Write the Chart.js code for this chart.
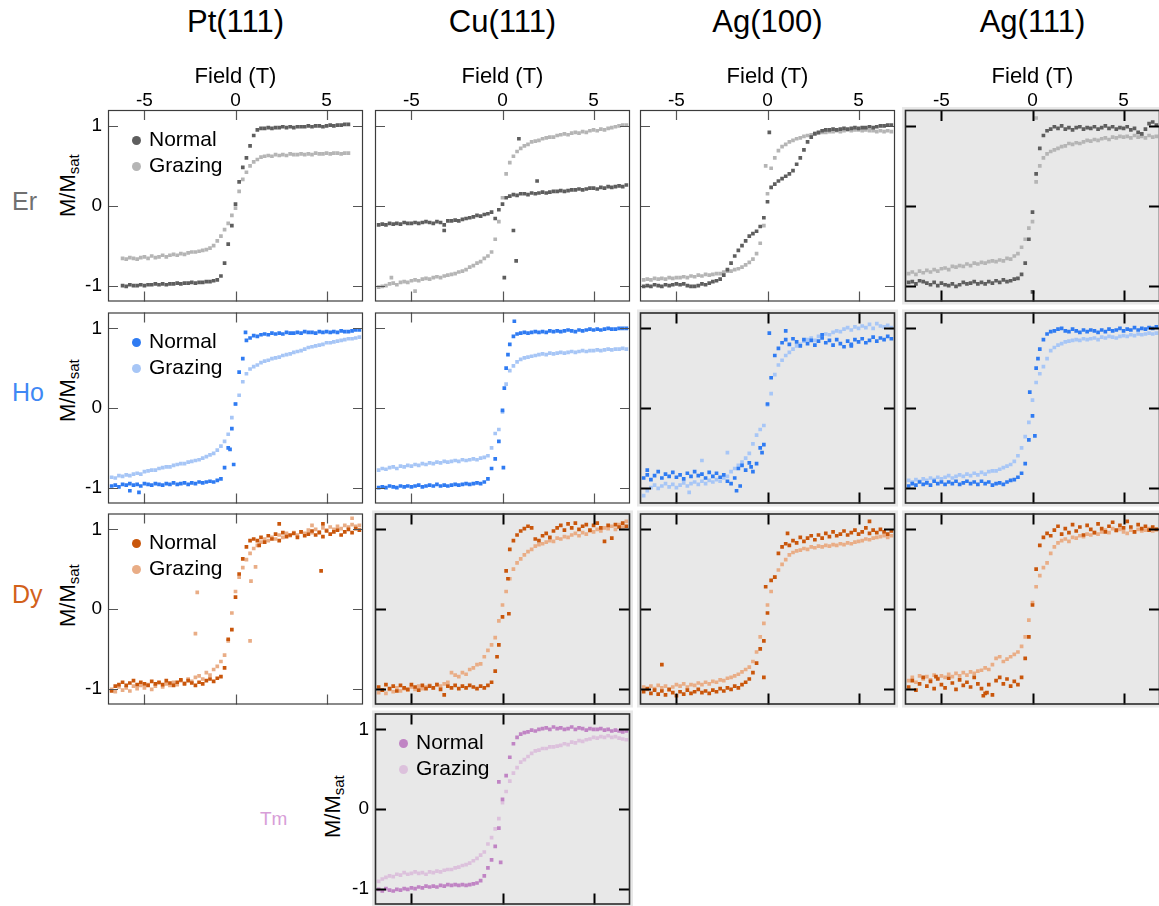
<!DOCTYPE html>
<html>
<head>
<meta charset="utf-8">
<script src="https://cdn.jsdelivr.net/npm/chart.js@4.4.1/dist/chart.umd.min.js"></script>
<style>
  body { margin: 0; width: 1159px; height: 906px; overflow: hidden; position: relative; background: #fff;
         font-family: "Liberation Sans", Arial, Helvetica, sans-serif; color: #000; }
  .txt { position: absolute; white-space: nowrap; line-height: 1; }
  .colTitle { font-size: 31px; width: 255px; text-align: center; top: 6px; }
  .rowLabel { font-size: 25px; left: 12px; }
  .ylab { font-size: 22px; transform-origin: 0 0; transform: rotate(-90deg); }
  .ylab sub { font-size: 15px; vertical-align: -4px; }
  .legText { font-size: 21px; }
  .legDot { position: absolute; width: 9px; height: 9px; border-radius: 50%; }
  canvas { position: absolute; }
</style>
</head>
<body>
<script>
// field sweeps (T)
const fieldLong = [
  -6.8,-6.6,-6.4,-6.2,-6.0,-5.8,-5.6,-5.4,-5.2,-5.0,
  -4.8,-4.6,-4.4,-4.2,-4.0,-3.8,-3.6,-3.4,-3.2,-3.0,
  -2.8,-2.6,-2.4,-2.2,-2.0,-1.8,-1.6,-1.4,-1.2,-1.0,
  -0.8,-0.6,-0.4,-0.2,0,0.2,0.4,0.6,0.8,1.0,
  1.2,1.4,1.6,1.8,2.0,2.2,2.4,2.6,2.8,3.0,
  3.2,3.4,3.6,3.8,4.0,4.2,4.4,4.6,4.8,5.0,
  5.2,5.4,5.6,5.8,6.0,6.2,6.4,6.6,6.8];
const fieldShort = [
  -6.2,-6.0,-5.8,-5.6,-5.4,-5.2,-5.0,-4.8,-4.6,-4.4,
  -4.2,-4.0,-3.8,-3.6,-3.4,-3.2,-3.0,-2.8,-2.6,-2.4,
  -2.2,-2.0,-1.8,-1.6,-1.4,-1.2,-1.0,-0.8,-0.6,-0.4,
  -0.2,0,0.2,0.4,0.6,0.8,1.0,1.2,1.4,1.6,
  1.8,2.0,2.2,2.4,2.6,2.8,3.0,3.2,3.4,3.6,
  3.8,4.0,4.2,4.4,4.6,4.8,5.0,5.2,5.4,5.6,
  5.8,6.0,6.2];

const xTicks = [-5, 0, 5];
const yTicks = [-1, 0, 1];
const substrates = ['Pt(111)', 'Cu(111)', 'Ag(100)', 'Ag(111)'];

// ---- Er ----
const erPtNormal = [
  -1.00,-1.01,-0.99,-1.00,-1.00,-0.99,-1.00,-0.99,-0.99,-0.98,
  -0.99,-0.98,-0.99,-0.98,-0.98,-0.97,-0.98,-0.97,-0.97,-0.96,
  -0.97,-0.96,-0.96,-0.95,-0.95,-0.94,-0.93,-0.88,-0.72,-0.48,
  -0.25,0.02,0.30,0.48,0.60,0.75,0.88,0.95,0.97,0.97,
  0.98,0.97,0.98,0.98,0.99,0.98,0.99,0.98,0.99,0.99,
  0.99,1.00,0.99,1.00,1.00,0.99,1.00,1.01,1.00,1.01,
  1.01,1.02,1.02];
const erPtGrazing = [
  -0.66,-0.67,-0.65,-0.66,-0.67,-0.65,-0.64,-0.66,-0.63,-0.65,
  -0.64,-0.62,-0.64,-0.62,-0.61,-0.62,-0.60,-0.61,-0.59,-0.58,
  -0.58,-0.57,-0.56,-0.55,-0.53,-0.50,-0.44,-0.38,-0.30,-0.22,
  -0.12,-0.03,0.18,0.33,0.42,0.50,0.55,0.58,0.61,0.62,
  0.63,0.62,0.64,0.63,0.64,0.63,0.65,0.64,0.64,0.65,
  0.64,0.65,0.64,0.66,0.65,0.65,0.66,0.65,0.66,0.66,
  0.65,0.66,0.66];
const erCuNormal = [
  -0.24,-0.23,-0.24,-0.22,-0.23,-0.22,-0.23,-0.21,-0.22,-0.22,
  -0.21,-0.22,-0.21,-0.20,-0.21,-0.22,-0.20,-0.21,-0.24,-0.19,
  -0.19,-0.18,-0.19,-0.17,-0.16,-0.15,-0.14,-0.12,-0.13,-0.11,
  -0.10,-0.08,-0.16,-0.05,0.02,0.10,0.12,0.14,0.13,0.15,
  0.15,0.14,0.16,0.15,0.16,0.17,0.16,0.17,0.18,0.18,
  0.19,0.18,0.19,0.20,0.20,0.21,0.20,0.21,0.22,0.22,
  0.21,0.23,0.22,0.24,0.23,0.24,0.25,0.24,0.26];
const erCuNormalOut = [[0.6,-0.31],[0.75,-0.69],[0.1,-0.9],[0.9,0.84],[-3.2,-0.31],[1.9,0.31]];
const erCuGrazing = [
  -1.02,-1.01,-1.00,-0.98,-0.97,-0.99,-0.96,-0.95,-0.96,-0.94,
  -0.93,-0.94,-0.92,-0.91,-0.92,-0.90,-0.89,-0.90,-0.88,-0.87,
  -0.86,-0.85,-0.83,-0.82,-0.80,-0.77,-0.75,-0.72,-0.70,-0.66,
  -0.63,-0.58,-0.42,-0.20,0.10,0.40,0.54,0.62,0.68,0.72,
  0.75,0.77,0.80,0.81,0.82,0.84,0.85,0.86,0.86,0.88,
  0.89,0.90,0.89,0.91,0.92,0.91,0.93,0.92,0.94,0.95,
  0.94,0.96,0.95,0.97,0.98,0.99,1.00,1.01,1.01];
const erCuGrazingOut = [[-4.8,-1.07],[-6.1,-0.9]];
const erAg100Normal = [
  -1.01,-1.00,-1.01,-0.99,-1.00,-1.01,-0.99,-1.00,-0.99,-0.98,
  -0.99,-0.98,-1.00,-1.01,-1.01,-1.00,-0.98,-0.99,-0.97,-0.95,
  -0.94,-0.92,-0.87,-0.80,-0.72,-0.63,-0.56,-0.50,-0.44,-0.38,
  -0.35,-0.32,-0.26,-0.15,0.05,0.23,0.27,0.31,0.34,0.37,
  0.40,0.44,0.52,0.60,0.70,0.80,0.86,0.90,0.92,0.94,
  0.95,0.95,0.96,0.95,0.96,0.97,0.96,0.97,0.98,0.97,
  0.98,0.98,0.99,0.98,0.99,1.00,1.00,1.01,1.01];
const erAg100NormalOut = [[0.1,0.92]];
const erAg100Grazing = [
  -0.93,-0.92,-0.93,-0.91,-0.92,-0.91,-0.92,-0.90,-0.91,-0.90,
  -0.90,-0.89,-0.90,-0.88,-0.89,-0.87,-0.88,-0.86,-0.87,-0.86,
  -0.85,-0.85,-0.83,-0.82,-0.82,-0.80,-0.79,-0.77,-0.74,-0.71,
  -0.67,-0.60,-0.47,-0.25,0.15,0.47,0.60,0.69,0.74,0.77,
  0.80,0.82,0.84,0.85,0.87,0.88,0.89,0.91,0.91,0.92,
  0.92,0.93,0.93,0.94,0.93,0.94,0.95,0.94,0.95,0.95,
  0.94,0.95,0.94,0.94,0.93,0.94,0.93,0.94,0.93];
const erAg100GrazingOut = [[-0.1,0.5]];
const erAg111Normal = [
  -0.96,-0.95,-0.98,-0.94,-0.95,-0.97,-0.99,-0.96,-1.00,-0.97,
  -0.99,-1.00,-0.98,-1.01,-0.99,-0.96,-0.98,-0.97,-0.95,-0.98,
  -0.96,-0.98,-0.95,-0.97,-0.94,-0.96,-0.93,-0.95,-0.94,-0.92,
  -0.91,-0.86,-0.72,-0.42,-0.08,0.40,0.72,0.88,0.94,0.96,
  0.99,0.97,1.00,0.96,0.98,0.95,0.98,0.99,0.96,0.98,
  0.97,0.99,0.96,0.98,1.00,0.97,0.99,0.96,0.98,0.97,
  0.99,0.95,0.97,0.92,0.90,0.96,1.03,1.05,1.01];
const erAg111NormalOut = [[0,-1.08]];
const erAg111Grazing = [
  -0.85,-0.83,-0.86,-0.82,-0.84,-0.81,-0.83,-0.80,-0.82,-0.79,
  -0.78,-0.80,-0.76,-0.77,-0.75,-0.76,-0.73,-0.75,-0.72,-0.73,
  -0.71,-0.72,-0.70,-0.69,-0.70,-0.68,-0.69,-0.66,-0.67,-0.63,
  -0.60,-0.52,-0.42,-0.28,-0.20,0.30,0.50,0.60,0.65,0.68,
  0.70,0.72,0.74,0.75,0.78,0.77,0.79,0.78,0.80,0.82,
  0.81,0.83,0.82,0.84,0.85,0.83,0.86,0.85,0.87,0.86,
  0.87,0.85,0.88,0.86,0.87,0.85,0.88,0.86,0.87];
const erAg111GrazingOut = [[0.2,1.1]];

// ---- Ho ----
const hoPtNormal = [
  -0.98,-0.97,-0.99,-0.96,-0.97,-0.95,-0.97,-0.96,-0.98,-0.95,
  -0.96,-0.97,-0.95,-0.96,-0.97,-0.95,-0.96,-0.94,-0.96,-0.95,
  -0.94,-0.96,-0.94,-0.95,-0.93,-0.94,-0.93,-0.92,-0.93,-0.91,
  -0.89,-0.75,-0.50,-0.26,0.05,0.45,0.62,0.85,0.88,0.91,
  0.90,0.92,0.93,0.92,0.94,0.93,0.94,0.93,0.95,0.94,
  0.94,0.95,0.94,0.96,0.95,0.95,0.94,0.96,0.95,0.96,
  0.95,0.96,0.95,0.97,0.96,0.96,0.97,0.98,0.98];
const hoPtNormalOut = [[-5.8,-1.04],[-5.3,-1.06],[0.55,0.95],[-0.1,-0.71],[-0.3,-0.52]];
const hoPtGrazing = [
  -0.87,-0.88,-0.85,-0.86,-0.84,-0.85,-0.83,-0.82,-0.83,-0.80,
  -0.79,-0.78,-0.78,-0.76,-0.75,-0.74,-0.74,-0.72,-0.71,-0.70,
  -0.70,-0.68,-0.67,-0.66,-0.65,-0.63,-0.61,-0.59,-0.57,-0.53,
  -0.48,-0.42,-0.33,-0.12,0.05,0.16,0.33,0.43,0.49,0.52,
  0.54,0.57,0.59,0.60,0.62,0.63,0.64,0.66,0.67,0.68,
  0.70,0.71,0.72,0.74,0.76,0.77,0.78,0.79,0.80,0.82,
  0.82,0.83,0.84,0.85,0.86,0.87,0.87,0.88,0.89];
const hoCuNormal = [
  -1.00,-0.99,-1.00,-0.98,-0.99,-1.00,-0.98,-0.99,-0.98,-0.99,
  -0.98,-0.97,-0.99,-0.98,-0.97,-0.98,-0.96,-0.98,-0.97,-0.98,
  -0.97,-0.96,-0.97,-0.96,-0.95,-0.96,-0.95,-0.94,-0.95,-0.93,
  -0.89,-0.76,-0.64,-0.42,-0.03,0.50,0.80,0.90,0.93,0.94,
  0.95,0.94,0.95,0.96,0.95,0.96,0.95,0.97,0.96,0.97,
  0.96,0.97,0.98,0.97,0.96,0.98,0.97,0.98,0.99,0.98,
  0.99,0.98,0.99,1.00,0.99,0.99,1.00,1.00,1.00];
const hoCuNormalOut = [[0.65,1.09],[0.05,-0.75],[0.1,0.25],[0.3,0.67]];
const hoCuGrazing = [
  -0.78,-0.76,-0.77,-0.75,-0.74,-0.76,-0.73,-0.74,-0.72,-0.73,
  -0.71,-0.72,-0.70,-0.71,-0.69,-0.70,-0.68,-0.69,-0.67,-0.68,
  -0.67,-0.66,-0.67,-0.65,-0.66,-0.65,-0.64,-0.65,-0.63,-0.62,
  -0.60,-0.50,-0.32,-0.27,-0.05,0.30,0.47,0.53,0.58,0.61,
  0.63,0.64,0.65,0.66,0.67,0.68,0.67,0.69,0.68,0.69,
  0.70,0.69,0.70,0.71,0.70,0.71,0.72,0.71,0.72,0.72,
  0.73,0.72,0.73,0.74,0.73,0.74,0.74,0.75,0.74];
const hoAg100Normal = [
  -0.88,-0.84,-0.90,-0.85,-0.80,-0.88,-0.83,-0.86,-0.81,-0.87,
  -0.84,-0.89,-0.82,-0.86,-0.80,-0.85,-0.83,-0.88,-0.81,-0.86,
  -0.82,-0.87,-0.84,-0.92,-0.95,-0.88,-0.76,-0.72,-0.78,-0.69,
  -0.80,-0.70,-0.50,-0.46,0.05,0.38,0.66,0.75,0.82,0.86,
  0.80,0.87,0.83,0.78,0.86,0.81,0.85,0.79,0.84,0.88,
  0.82,0.85,0.79,0.86,0.81,0.77,0.84,0.80,0.86,0.83,
  0.87,0.82,0.85,0.89,0.84,0.88,0.86,0.90,0.87];
const hoAg100NormalOut = [[-1.7,-1.04],[0.1,0.94],[1.0,0.97],[-0.9,-0.74],[-0.3,-0.56],[-6.6,-0.78],[3.0,0.92],[4.6,0.78],[-1.5,-0.98]];
const hoAg100Grazing = [
  -1.10,-1.04,-1.00,-0.97,-1.01,-0.98,-0.95,-0.99,-0.96,-1.00,
  -0.97,-0.94,-0.98,-0.95,-0.93,-0.96,-0.92,-0.95,-0.91,-0.93,
  -0.90,-0.92,-0.88,-0.86,-0.80,-0.76,-0.72,-0.68,-0.63,-0.57,
  -0.45,-0.34,-0.27,-0.22,0.04,0.18,0.42,0.54,0.60,0.66,
  0.70,0.74,0.78,0.80,0.84,0.86,0.88,0.85,0.90,0.91,
  0.93,0.92,0.95,0.97,0.96,0.99,1.01,0.98,1.02,1.00,
  1.03,1.01,1.05,1.00,1.06,1.03,1.02,1.04,1.01];
const hoAg100GrazingOut = [[-2.2,-0.56],[-3.6,-0.66],[-4.3,-1.06]];
const hoAg111Normal = [
  -0.98,-0.95,-0.97,-0.93,-0.96,-0.94,-0.97,-0.92,-0.95,-0.93,
  -0.96,-0.93,-0.95,-0.92,-0.96,-0.94,-0.92,-0.95,-0.93,-0.96,
  -0.92,-0.95,-0.93,-0.97,-0.95,-0.94,-0.96,-0.93,-0.91,-0.90,
  -0.87,-0.82,-0.70,-0.40,-0.10,0.50,0.74,0.86,0.93,0.96,
  0.97,0.99,1.00,0.97,0.96,0.99,0.97,0.95,0.98,0.96,
  0.98,0.97,0.95,0.98,0.96,0.99,0.97,0.98,1.00,0.97,
  0.99,0.98,1.01,0.98,1.00,0.99,1.01,1.00,1.02];
const hoAg111NormalOut = [[-0.15,0.2],[0.13,-0.35],[0.3,0.62]];
const hoAg111Grazing = [
  -0.91,-0.93,-0.90,-0.92,-0.89,-0.91,-0.88,-0.90,-0.87,-0.89,
  -0.87,-0.85,-0.88,-0.86,-0.84,-0.86,-0.83,-0.85,-0.82,-0.84,
  -0.81,-0.83,-0.80,-0.79,-0.79,-0.77,-0.75,-0.73,-0.71,-0.67,
  -0.60,-0.50,-0.36,-0.18,0.10,0.32,0.43,0.52,0.62,0.72,
  0.76,0.79,0.81,0.83,0.84,0.85,0.86,0.85,0.87,0.86,
  0.87,0.88,0.86,0.89,0.88,0.90,0.89,0.88,0.90,0.91,
  0.90,0.92,0.91,0.93,0.92,0.93,0.94,0.93,0.94];

// ---- Dy ----
const dyPtNormal = [
  -1.03,-0.97,-0.95,-0.92,-0.96,-0.93,-0.90,-0.95,-0.92,-0.94,
  -0.96,-0.91,-0.94,-0.92,-0.95,-0.90,-0.93,-0.96,-0.92,-0.89,
  -0.94,-0.90,-0.93,-0.96,-0.92,-0.94,-0.90,-0.88,-0.91,-0.87,
  -0.85,-0.74,-0.38,-0.26,0.15,0.44,0.63,0.78,0.86,0.88,
  0.86,0.90,0.84,0.92,0.88,0.94,0.86,0.96,0.91,0.93,
  0.95,0.90,0.97,0.92,0.94,0.98,0.93,0.96,0.91,0.98,
  0.94,0.97,0.99,0.93,0.97,1.00,0.96,1.01,0.99];
const dyPtNormalOut = [[4.7,0.48],[2.4,1.07],[4.8,1.07],[1.3,0.8]];
const dyPtGrazing = [
  -1.01,-1.04,-0.98,-1.02,-0.99,-1.03,-0.97,-1.00,-0.96,-0.99,
  -0.95,-1.01,-0.97,-0.93,-0.98,-0.94,-0.96,-0.92,-0.95,-0.90,
  -0.93,-0.88,-0.91,-0.86,-0.84,-0.88,-0.80,-0.83,-0.76,-0.72,
  -0.66,-0.58,-0.40,-0.05,0.22,0.40,0.52,0.62,0.70,0.76,
  0.80,0.84,0.88,0.86,0.90,0.88,0.93,0.90,0.95,0.92,
  0.96,0.93,0.97,0.95,0.99,0.96,1.00,0.97,1.02,0.99,
  1.03,1.00,1.04,1.01,1.05,1.03,1.06,1.04,1.05];
const dyPtGrazingOut = [[-2.1,0.21],[-2.2,-0.31],[0.8,-0.4],[1.1,0.53],[0.85,0.35],[6.4,1.14],[4.2,1.05]];
const dyCuNormal = [
  -0.98,-1.02,-0.95,-1.00,-0.97,-1.03,-0.96,-0.99,-1.01,-0.95,
  -0.98,-1.02,-0.96,-1.00,-0.97,-0.99,-0.95,-1.01,-1.08,-0.97,
  -0.99,-0.96,-1.00,-0.97,-0.99,-0.96,-0.98,-1.00,-0.97,-0.99,
  -0.96,-0.92,-0.78,-0.45,-0.10,0.48,0.75,0.86,0.93,0.98,
  1.01,1.04,1.02,0.88,0.86,0.92,0.95,0.90,0.98,1.02,
  1.05,0.99,1.07,1.02,1.08,1.00,1.04,1.06,0.99,1.05,
  1.08,1.02,0.85,1.05,0.89,1.06,1.03,1.08,1.04];
const dyCuNormalOut = [[0.35,-0.06],[0.3,0.38],[-0.3,-0.6]];
const dyCuGrazing = [
  -1.05,-1.02,-1.06,-1.01,-1.04,-0.99,-1.03,-1.00,-1.02,-0.98,
  -1.01,-0.97,-1.00,-0.98,-0.96,-0.99,-0.95,-0.97,-0.94,-0.92,
  -0.80,-0.83,-0.85,-0.80,-0.82,-0.76,-0.74,-0.70,-0.69,-0.60,
  -0.52,-0.45,-0.36,-0.15,0.05,0.22,0.38,0.50,0.58,0.63,
  0.68,0.72,0.75,0.79,0.81,0.82,0.84,0.86,0.85,0.89,
  0.88,0.91,0.90,0.93,0.95,0.92,0.96,0.94,0.98,0.97,
  1.00,0.98,1.02,1.01,1.04,1.00,1.06,1.03,1.10];
const dyAg100Normal = [
  -1.04,-1.00,-1.06,-1.02,-1.07,-1.03,-1.08,-1.01,-1.05,-1.09,
  -1.04,-1.07,-1.02,-1.06,-1.04,-1.01,-1.05,-1.03,-1.06,-1.02,
  -1.04,-1.00,-1.03,-0.99,-1.01,-0.97,-0.99,-0.95,-0.92,-0.88,
  -0.80,-0.68,-0.50,-0.40,-0.05,0.36,0.40,0.70,0.78,0.82,
  0.80,0.86,0.83,0.90,0.85,0.89,0.92,0.87,0.93,0.89,
  0.95,0.91,0.97,0.92,0.94,0.98,0.93,0.96,0.99,0.94,
  0.97,1.02,0.95,0.99,0.96,1.00,0.97,0.94,0.98];
const dyAg100NormalOut = [[-0.2,-0.86],[-0.1,0.28],[-5.8,-0.7],[1.1,0.95],[5.6,1.1]];
const dyAg100Grazing = [
  -0.98,-1.01,-0.97,-1.00,-0.96,-0.99,-0.97,-1.02,-0.98,-0.95,
  -0.97,-0.94,-0.98,-0.95,-0.96,-0.93,-0.95,-0.92,-0.94,-0.91,
  -0.92,-0.89,-0.90,-0.87,-0.86,-0.84,-0.82,-0.79,-0.76,-0.73,
  -0.66,-0.54,-0.35,-0.18,0.05,0.22,0.40,0.49,0.56,0.62,
  0.68,0.71,0.73,0.74,0.76,0.75,0.78,0.77,0.79,0.78,
  0.80,0.79,0.81,0.80,0.82,0.81,0.83,0.82,0.84,0.85,
  0.86,0.88,0.87,0.89,0.90,0.91,0.92,0.90,0.92];
const dyAg111Normal = [
  -0.98,-0.90,-1.02,-0.94,-0.86,-0.97,-0.91,-1.00,-0.88,-0.95,
  -0.99,-0.87,-0.93,-1.01,-0.89,-0.96,-0.92,-0.98,-0.86,-0.94,
  -1.00,-1.06,-0.95,-1.08,-0.90,-0.86,-0.94,-0.88,-0.97,-0.91,
  -0.95,-0.86,-0.62,-0.35,0.05,0.50,0.80,0.90,0.95,0.92,
  0.99,1.04,0.94,1.01,0.96,1.06,0.98,1.03,0.93,1.05,
  1.00,0.96,1.07,1.01,0.97,1.04,1.09,0.99,1.05,1.02,
  1.10,1.03,0.97,1.06,1.01,1.04,0.99,1.03,1.00];
const dyAg111NormalOut = [[-2.7,-1.09],[-2.5,-1.05],[-5.3,-0.85]];
const dyAg111Grazing = [
  -0.90,-0.86,-0.92,-0.84,-0.88,-0.85,-0.89,-0.83,-0.87,-0.84,
  -0.86,-0.82,-0.85,-0.81,-0.84,-0.80,-0.83,-0.79,-0.81,-0.78,
  -0.77,-0.74,-0.76,-0.70,-0.62,-0.60,-0.66,-0.63,-0.60,-0.57,
  -0.54,-0.47,-0.35,-0.14,0.08,0.28,0.42,0.52,0.58,0.70,
  0.78,0.83,0.86,0.88,0.85,0.90,0.89,0.92,0.91,0.94,
  0.93,0.96,0.94,0.97,0.99,0.96,1.01,0.98,1.00,0.97,
  0.95,0.99,0.97,1.00,0.98,0.99,1.01,0.98,1.00];

// ---- Tm ----
const tmCuNormal = [
  -1.01,-1.03,-1.00,-1.02,-1.03,-1.01,-1.02,-1.00,-1.01,-0.99,
  -1.00,-0.98,-0.99,-0.97,-0.98,-0.97,-0.98,-0.96,-0.97,-0.95,
  -0.96,-0.95,-0.96,-0.95,-0.96,-0.95,-0.94,-0.93,-0.90,-0.84,
  -0.74,-0.64,-0.47,-0.24,0.12,0.42,0.65,0.82,0.90,0.94,
  0.96,0.97,0.99,0.98,1.00,1.01,1.02,1.00,1.03,1.01,
  1.02,1.00,1.01,1.03,1.00,1.02,1.01,0.99,1.01,1.00,
  1.00,1.01,0.99,1.00,0.98,0.99,0.98,0.97,0.98];
const tmCuNormalOut = [[-0.1,-0.67],[-0.2,0.34]];
const tmCuGrazing = [
  -0.91,-0.88,-0.86,-0.84,-0.85,-0.82,-0.83,-0.80,-0.82,-0.81,
  -0.79,-0.81,-0.80,-0.82,-0.79,-0.80,-0.78,-0.79,-0.77,-0.76,
  -0.76,-0.74,-0.73,-0.71,-0.70,-0.68,-0.65,-0.62,-0.58,-0.54,
  -0.44,-0.36,-0.25,-0.12,0.08,0.22,0.35,0.45,0.52,0.59,
  0.62,0.66,0.70,0.73,0.74,0.76,0.76,0.78,0.78,0.79,
  0.80,0.82,0.81,0.84,0.83,0.86,0.85,0.87,0.88,0.90,
  0.89,0.91,0.90,0.92,0.90,0.91,0.89,0.88,0.87];

// ---- layout / style ----
const FONT = '"Liberation Sans", Arial, Helvetica, sans-serif';
const COL_LEFT = [108, 375, 640, 905];
const ROW_TOP = [110, 312, 513, 713];
const PW = 255, PH = 191;
const COLORS = {
  Er: ['#5e5e5e', '#b5b5b5', '#707070'],
  Ho: ['#2f7bf2', '#a7c6f6', '#3f88f4'],
  Dy: ['#c9560b', '#e9ad86', '#d2611a'],
  Tm: ['#c084c4', '#dcc1dc', '#d89ed8']
};

const panels = [
  { row: 0, col: 0, el: 'Er', field: fieldShort, n: erPtNormal, g: erPtGrazing, gray: false, legend: true },
  { row: 0, col: 1, el: 'Er', field: fieldLong, n: erCuNormal, nOut: erCuNormalOut, g: erCuGrazing, gOut: erCuGrazingOut, gray: false },
  { row: 0, col: 2, el: 'Er', field: fieldLong, n: erAg100Normal, nOut: erAg100NormalOut, g: erAg100Grazing, gOut: erAg100GrazingOut, gray: false },
  { row: 0, col: 3, el: 'Er', field: fieldLong, n: erAg111Normal, nOut: erAg111NormalOut, g: erAg111Grazing, gOut: erAg111GrazingOut, gray: true },
  { row: 1, col: 0, el: 'Ho', field: fieldLong, n: hoPtNormal, nOut: hoPtNormalOut, g: hoPtGrazing, gray: false, legend: true },
  { row: 1, col: 1, el: 'Ho', field: fieldLong, n: hoCuNormal, nOut: hoCuNormalOut, g: hoCuGrazing, gray: false },
  { row: 1, col: 2, el: 'Ho', field: fieldLong, n: hoAg100Normal, nOut: hoAg100NormalOut, g: hoAg100Grazing, gOut: hoAg100GrazingOut, gray: true },
  { row: 1, col: 3, el: 'Ho', field: fieldLong, n: hoAg111Normal, nOut: hoAg111NormalOut, g: hoAg111Grazing, gray: true },
  { row: 2, col: 0, el: 'Dy', field: fieldLong, n: dyPtNormal, nOut: dyPtNormalOut, g: dyPtGrazing, gOut: dyPtGrazingOut, gray: false, legend: true },
  { row: 2, col: 1, el: 'Dy', field: fieldLong, n: dyCuNormal, nOut: dyCuNormalOut, g: dyCuGrazing, gray: true },
  { row: 2, col: 2, el: 'Dy', field: fieldLong, n: dyAg100Normal, nOut: dyAg100NormalOut, g: dyAg100Grazing, gray: true },
  { row: 2, col: 3, el: 'Dy', field: fieldLong, n: dyAg111Normal, nOut: dyAg111NormalOut, g: dyAg111Grazing, gray: true },
  { row: 3, col: 1, el: 'Tm', field: fieldLong, n: tmCuNormal, nOut: tmCuNormalOut, g: tmCuGrazing, gray: true, legend: true, yAxis: true }
];

// frame with inward ticks, plus grey backdrop
const framePlugin = {
  id: 'frame',
  beforeDraw(chart, args, opts) {
    const { ctx, chartArea: a } = chart;
    if (opts.gray) {
      ctx.save();
      ctx.fillStyle = '#e8e8e8';
      ctx.fillRect(a.left - 3, a.top - 3, a.right - a.left + 6, a.bottom - a.top + 6);
      ctx.restore();
    }
  },
  afterDraw(chart, args, opts) {
    const { ctx, chartArea: a, scales } = chart;
    const tl = opts.gray ? 11 : 10;
    ctx.save();
    ctx.strokeStyle = opts.gray ? '#000' : '#555';
    ctx.lineWidth = opts.gray ? 2 : 1.2;
    ctx.beginPath();
    xTicks.forEach(v => {
      const px = Math.round(scales.x.getPixelForValue(v)) + 0.5;
      ctx.moveTo(px, a.top); ctx.lineTo(px, a.top + tl);
      ctx.moveTo(px, a.bottom); ctx.lineTo(px, a.bottom - tl);
    });
    yTicks.forEach(v => {
      const py = Math.round(scales.y.getPixelForValue(v)) + 0.5;
      ctx.moveTo(a.left, py); ctx.lineTo(a.left + tl, py);
      ctx.moveTo(a.right, py); ctx.lineTo(a.right - tl, py);
    });
    ctx.stroke();
    ctx.strokeStyle = opts.gray ? '#2a2a2a' : '#3c3c3c';
    ctx.lineWidth = opts.gray ? 1.6 : 1.2;
    ctx.strokeRect(a.left + 0.5, a.top + 0.5, a.right - a.left - 1, a.bottom - a.top - 1);
    ctx.restore();
  }
};

function toPoints(field, ys, extra) {
  const pts = field.map((x, i) => ({ x: x, y: ys[i] }));
  (extra || []).forEach(p => pts.push({ x: p[0], y: p[1] }));
  return pts;
}

function addText(html, cls, left, top, color) {
  const d = document.createElement('div');
  d.className = 'txt ' + cls;
  d.innerHTML = html;
  d.style.left = left + 'px';
  d.style.top = top + 'px';
  if (color) d.style.color = color;
  document.body.appendChild(d);
  return d;
}

function panelConfig(p, showX, showY) {
  const c = COLORS[p.el];
  return {
    type: 'scatter',
    data: {
      datasets: [
        { label: 'Normal', data: toPoints(p.field, p.n, p.nOut), backgroundColor: c[0],
          pointStyle: 'rect', pointRadius: 2.6, pointBorderWidth: 0, borderWidth: 0 },
        { label: 'Grazing', data: toPoints(p.field, p.g, p.gOut), backgroundColor: c[1],
          pointStyle: 'rect', pointRadius: 2.6, pointBorderWidth: 0, borderWidth: 0 }
      ]
    },
    options: {
      responsive: false,
      maintainAspectRatio: false,
      animation: false,
      devicePixelRatio: 1,
      layout: { autoPadding: false, padding: { left: showY ? 0 : 4, right: 4, top: showX ? 0 : 4, bottom: 4 } },
      plugins: { legend: { display: false }, tooltip: { enabled: false }, frame: { gray: p.gray } },
      scales: {
        x: {
          type: 'linear', position: 'top', min: -7, max: 7, display: showX,
          grid: { display: false, drawTicks: false }, border: { display: false },
          ticks: { color: '#000', font: { family: FONT, size: 19, lineHeight: 1 }, padding: 0, maxRotation: 0 },
          afterBuildTicks: s => { s.ticks = xTicks.map(v => ({ value: v })); },
          afterFit: s => { s.height = showX ? 46 : 0; },
          title: { display: true, text: 'Field (T)', color: '#000',
                   font: { family: FONT, size: 22, lineHeight: 1.2 }, padding: { top: 0, bottom: 0 } }
        },
        y: {
          type: 'linear', position: 'left', min: -1.2, max: 1.2, display: showY,
          grid: { display: false, drawTicks: false }, border: { display: false },
          ticks: { color: '#000', font: { family: FONT, size: 19, lineHeight: 1 }, padding: 6 },
          afterBuildTicks: s => { s.ticks = yTicks.map(v => ({ value: v })); },
          afterFit: s => { s.width = showY ? 32 : 0; }
        }
      }
    },
    plugins: [framePlugin]
  };
}

function placeCanvas(cv, left, top, w, h) {
  cv.width = w; cv.height = h;
  cv.style.left = left + 'px'; cv.style.top = top + 'px';
  cv.style.width = w + 'px'; cv.style.height = h + 'px';
}

function makePanel(p) {
  const showX = p.row === 0;
  const showY = p.col === 0 || p.yAxis;
  const padL = showY ? 32 : 4, padT = showX ? 46 : 4;
  let w = PW + padL + 4, h = PH + padT + 4;
  const cv = document.createElement('canvas');
  document.body.appendChild(cv);
  placeCanvas(cv, COL_LEFT[p.col] - padL, ROW_TOP[p.row] - padT, w, h);
  let chart = new Chart(cv, panelConfig(p, showX, showY));

  // if the layout ate extra room, grow the canvas so the plot frame lands where it should
  for (let k = 0; k < 2; k++) {
    const a = chart.chartArea;
    const offL = a.left, offT = a.top, offR = w - a.right, offB = h - a.bottom;
    if (Math.abs(a.right - a.left - PW) < 0.5 && Math.abs(a.bottom - a.top - PH) < 0.5) break;
    chart.destroy();
    w = Math.round(offL + PW + offR); h = Math.round(offT + PH + offB);
    placeCanvas(cv, Math.round(COL_LEFT[p.col] - offL), Math.round(ROW_TOP[p.row] - offT), w, h);
    chart = new Chart(cv, panelConfig(p, showX, showY));
  }

  if (p.legend) {
    const c = COLORS[p.el];
    const L = COL_LEFT[p.col], T = ROW_TOP[p.row];
    ['Normal', 'Grazing'].forEach((name, k) => {
      const dot = document.createElement('div');
      dot.className = 'legDot';
      dot.style.background = c[k];
      dot.style.left = (L + 24) + 'px';
      dot.style.top = (T + 26 + 26 * k) + 'px';
      document.body.appendChild(dot);
      addText(name, 'legText', L + 41, T + 18 + 26 * k);
    });
  }
}

// column titles
substrates.forEach((s, i) => {
  addText(s, 'colTitle', COL_LEFT[i], 6);
});

// row labels
addText('Er', 'rowLabel', 12, 189, COLORS.Er[2]);
addText('Ho', 'rowLabel', 12, 380, COLORS.Ho[2]);
addText('Dy', 'rowLabel', 12, 582, COLORS.Dy[2]);
const tm = addText('Tm', 'rowLabel', 260, 809, COLORS.Tm[2]);
tm.style.fontSize = '19px';

// y axis titles
[[57, 217], [57, 422], [57, 627], [322, 838]].forEach(([x, y]) => {
  addText('M/M<sub>sat</sub>', 'ylab', x, y);
});

panels.forEach(makePanel);
</script>
</body>
</html>
